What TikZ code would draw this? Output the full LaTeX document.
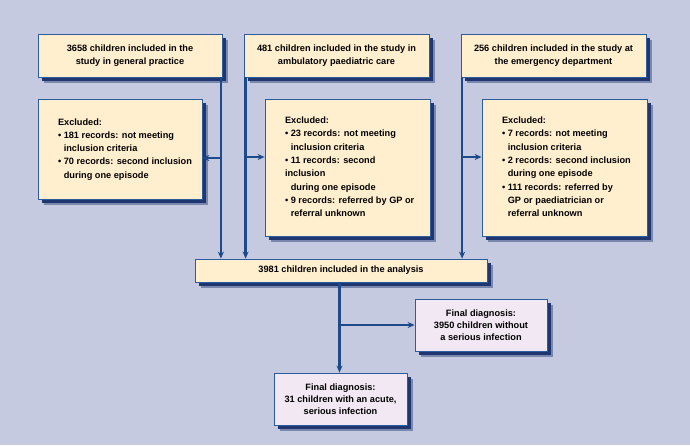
\documentclass[tikz,border=0pt]{standalone}
\usepackage{fontspec}
\setmainfont{Liberation Sans}
\usetikzlibrary{shadows,arrows.meta}
\definecolor{bg}{HTML}{C5CAE0}
\definecolor{cream}{HTML}{FFEFCE}
\definecolor{lav}{HTML}{F2E8F3}
\definecolor{edge}{HTML}{2C5C9C}
\definecolor{line}{HTML}{1D4A8B}
\definecolor{shad}{HTML}{1F3670}
\newcommand\ind{\hphantom{•\ }}
\newenvironment{exlist}[1]{\renewcommand\arraystretch{1}\setlength\tabcolsep{0pt}\begin{tabular}{@{\hspace{20pt}}p{#1}@{}}}{\end{tabular}}
\tikzset{
  x=1pt, y=-1pt,
  box/.style={draw=edge, line width=0.8pt, fill=cream, inner sep=0pt, align=center,
    font=\fontsize{9.2}{13.3}\selectfont\bfseries,
    general shadow={fill=shad, opacity=0.45, shadow xshift=5.5pt, shadow yshift=-5.5pt},
    general shadow={fill=shad, shadow xshift=3.5pt, shadow yshift=-3.5pt}},
  exbox/.style={box},
  finbox/.style={box, fill=lav, font=\fontsize{9.2}{11.8}\selectfont\bfseries},
  arr/.style={draw=line, line width=2.3pt, -{Stealth[length=7pt,width=6pt]}},
  conn/.style={draw=line, line width=2.3pt}
}
\begin{document}
\begin{tikzpicture}
\fill[bg] (0,0) rectangle (690,445);
\useasboundingbox (0,0) rectangle (690,445);

\node[box, minimum width=184pt, minimum height=43pt] (b1) at (130,55.5)
  {3658 children included in the\\study in general practice};
\node[box, minimum width=185pt, minimum height=43pt] (b2) at (336.5,55.5)
  {481 children included in the study in\\ambulatory paediatric care};
\node[box, minimum width=185pt, minimum height=43pt] (b3) at (553.5,55.5)
  {256 children included in the study at\\the emergency department};

\node[exbox, minimum width=164pt, minimum height=100pt] (e1) at (120,149)
  {\begin{exlist}{144pt}Excluded:\\
   • 181 records: not meeting\\
   \ind inclusion criteria\\
   • 70 records: second inclusion\\
   \ind during one episode\end{exlist}};
\node[exbox, minimum width=165pt, minimum height=137pt] (e2) at (347.5,167.5)
  {\begin{exlist}{145pt}Excluded:\\
   • 23 records: not meeting\\
   \ind inclusion criteria\\
   • 11 records: second\\
   inclusion\\
   \ind during one episode\\
   • 9 records: referred by GP or\\
   \ind referral unknown\end{exlist}};
\node[exbox, minimum width=165pt, minimum height=137pt] (e3) at (564.5,167.5)
  {\begin{exlist}{145pt}Excluded:\\
   • 7 records: not meeting\\
   \ind inclusion criteria\\
   • 2 records: second inclusion\\
   \ind during one episode\\
   • 111 records: referred by\\
   \ind GP or paediatrician or\\
   \ind referral unknown\end{exlist}};

\node[box, minimum width=292pt, minimum height=23pt] (an) at (341,270.5)
  {3981 children included in the analysis};

\node[finbox, minimum width=132pt, minimum height=52pt] (f1) at (481,325)
  {Final diagnosis:\\3950 children without\\a serious infection};
\node[finbox, minimum width=133pt, minimum height=52pt] (f2) at (340.5,399)
  {Final diagnosis:\\31 children with an acute,\\serious infection};

% verticals
\draw[arr] ([xshift=-1.5pt]b1.south east) -- ([xshift=-1.5pt]b1.south east |- an.north);
\draw[arr] ([xshift=2pt]b2.south west) -- ([xshift=2pt]b2.south west |- an.north);
\draw[arr] ([xshift=1.5pt]b3.south west) -- ([xshift=1.5pt]b3.south west |- an.north);
% side arrows
\draw[arr] ([yshift=-9pt]e1.east -| b1.south east) ++(-1.5,0) -- ([yshift=-9pt]e1.east);
\draw[arr] ([yshift=10.5pt]e2.west -| b2.south west) ++(2,0) -- ([yshift=10.5pt]e2.west);
\draw[arr] ([yshift=10.5pt]e3.west -| b3.south west) ++(1.5,0) -- ([yshift=10.5pt]e3.west);
% bottom
\draw[arr] ([xshift=-1.5pt]an.south) -- ([xshift=-1.5pt]an.south |- f2.north);
\draw[arr] ([xshift=-1.5pt]an.south |- f1.west) -- (f1.west);
\end{tikzpicture}
\end{document}
